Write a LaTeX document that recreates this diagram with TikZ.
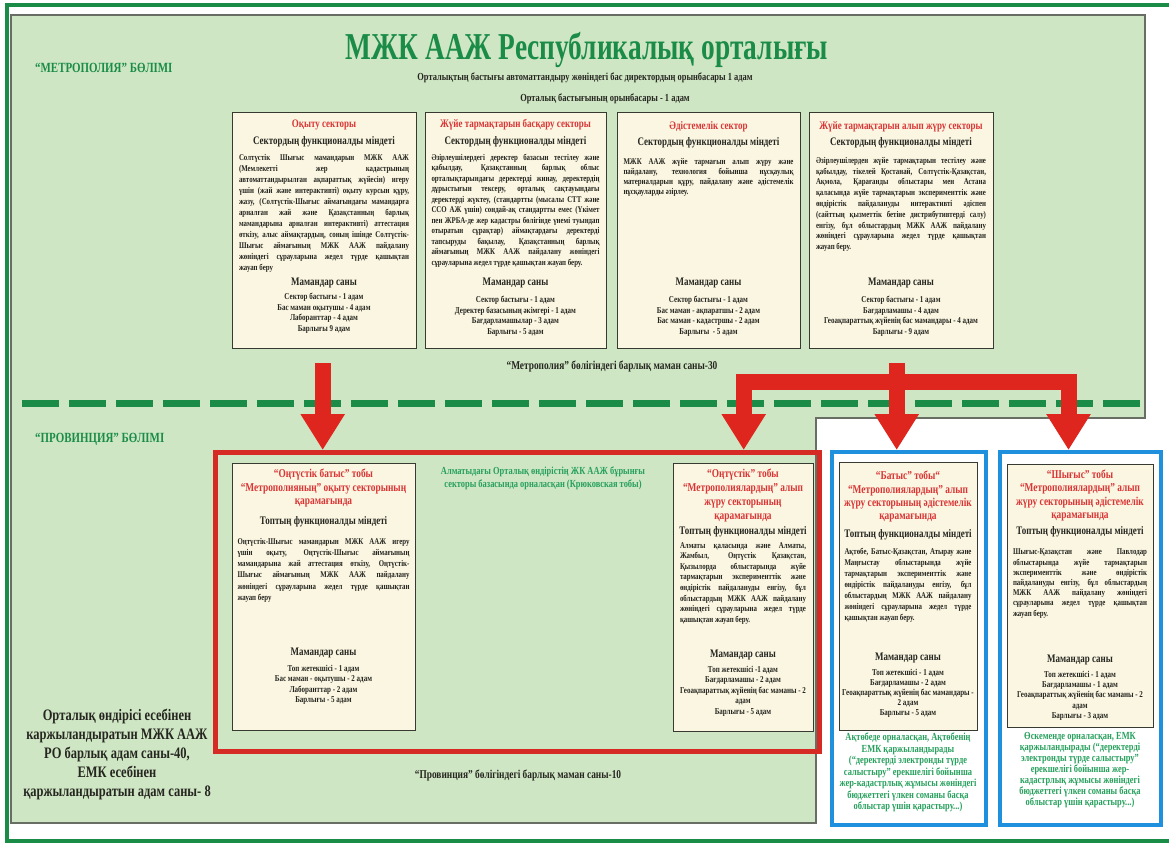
\documentclass[tikz,border=0pt]{standalone}
\usepackage{fontspec}
\setmainfont{Liberation Serif}[FakeStretch=0.78]
\newfontfamily\titlefont{Liberation Serif}[FakeStretch=0.72]
\usetikzlibrary{arrows.meta}
\definecolor{dkgreen}{RGB}{26,140,72}
\definecolor{bggreen}{RGB}{207,230,196}
\definecolor{regline}{RGB}{105,110,100}
\definecolor{cream}{RGB}{250,246,226}
\definecolor{boxline}{RGB}{55,58,48}
\definecolor{ink}{RGB}{38,38,32}
\definecolor{redtxt}{RGB}{218,52,52}
\definecolor{arrred}{RGB}{222,38,30}
\definecolor{boxred}{RGB}{214,42,36}
\definecolor{boxblue}{RGB}{30,144,222}
\definecolor{notegreen}{RGB}{38,160,92}
\begin{document}
\begin{tikzpicture}[x=1pt,y=-1pt,
 outerframe/.style={draw=dkgreen,line width=4pt,line join=miter},
 region/.style={fill=bggreen,draw=regline,line width=1.2pt},
 dashline/.style={draw=dkgreen,line width=7pt,dash pattern=on 37pt off 10pt},
 bigtitle/.style={font=\titlefont\bfseries\fontsize{38}{40}\selectfont,text=dkgreen,inner sep=0pt,anchor=base},
 seclabel/.style={font=\bfseries\fontsize{14}{16}\selectfont,text=dkgreen,inner sep=0pt,anchor=base west},
 subt/.style={font=\bfseries\fontsize{10.8}{12}\selectfont,text=ink,inner sep=0pt},
 total/.style={font=\bfseries\fontsize{12}{14}\selectfont,text=ink,inner sep=0pt},
 cbox/.style={draw=boxline,fill=cream,line width=1.4pt,inner sep=0pt,anchor=north west},
 redbox/.style={draw=boxred,line width=5pt,inner sep=0pt},
 bluebox/.style={draw=boxblue,line width=4pt,inner sep=0pt},
 rtitle/.style={font=\bfseries\fontsize{11.5}{13.5}\selectfont,text=redtxt,inner sep=0pt},
 ptitle/.style={font=\bfseries\fontsize{12}{#1}\selectfont,text=redtxt,inner sep=0pt,align=center,anchor=north},
 ptitle/.default=13.6,
 subh/.style={font=\bfseries\fontsize{11.5}{13.5}\selectfont,text=ink,inner sep=0pt},
 body/.style={font=\bfseries\fontsize{8.8}{#1}\selectfont,text=ink,inner sep=0pt,align=justify,anchor=north},
 body/.default=10.8,
 staff/.style={font=\bfseries\fontsize{9}{#1}\selectfont,text=ink,inner sep=0pt,align=center,anchor=north},
 staff/.default=10.5,
 gnote/.style={font=\bfseries\fontsize{10.8}{#1}\selectfont,text=notegreen,inner sep=0pt,align=center,anchor=north},
 gnote/.default=11.5,
 lefttxt/.style={font=\bfseries\fontsize{16}{19}\selectfont,text=ink,inner sep=0pt,align=center,anchor=north},
 bigarrow/.style={draw=arrred,line width=16pt,line join=miter,-{Triangle[width=42pt,length=36pt]}}
]
\useasboundingbox (0,0) rectangle (1169,845);
\fill[white] (0,0) rectangle (1169,845);
% outer frame and green region
\draw[outerframe] (1169,5) -- (7,5) -- (7,841) -- (1169,841);
\filldraw[region] (11,15) -- (1145,15) -- (1145,418) -- (816,418) -- (816,823) -- (11,823) -- cycle;
\draw[dashline] (22,403) -- (1145,403);

% headings
\node[bigtitle] (ttl) at (587,60) {МЖК ААЖ Республикалық орталығы};
\node[seclabel] (lm) at (35,73) {“МЕТРОПОЛИЯ” БӨЛІМІ};
\node[subt] (st1) at (585,78) {Орталықтың бастығы автоматтандыру жөніндегі бас директордың орынбасары 1 адам};
\node[subt] (st2) at (605,99) {Орталық бастығының орынбасары - 1 адам};

% metropolia box 1
\node[cbox,minimum width=184pt,minimum height=236pt] (m1) at (232,112) {};
\node[rtitle] (m1t) at (324,125) {Оқыту секторы};
\node[subh] (m1s) at (324,142) {Сектордың функционалды міндеті};
\node[body=11,text width=170pt] (m1b) at (324,154) {Солтүстік Шығыс мамандарын МЖК ААЖ\linebreak (Мемлекетті жер кадастрының\linebreak автоматтандырылған ақпараттық жүйесін) игеру\linebreak үшін (жай және интерактивті) оқыту курсын құру,\linebreak жазу, (Солтүстік-Шығыс аймағындағы мамандарға\linebreak арналған жай және Қазақстанның барлық\linebreak мамандарына арналған интерактивті) аттестация\linebreak өткізу, алыс аймақтардың, соның ішінде Солтүстік-\linebreak Шығыс аймағының МЖК ААЖ пайдалану\linebreak жөніндегі сұрауларына жедел түрде қашықтан\linebreak жауап беру};
\node[subh] (m1m) at (324,283) {Мамандар саны};
\node[staff] (m1f) at (324,293) {Сектор бастығы - 1 адам\\Бас маман оқытушы - 4 адам\\Лаборанттар - 4 адам\\Барлығы 9 адам};

% metropolia box 2
\node[cbox,minimum width=181pt,minimum height=236pt] (m2) at (425,112) {};
\node[rtitle] (m2t) at (515.5,125) {Жүйе тармақтарын басқару секторы};
\node[subh] (m2s) at (515.5,142) {Сектордың функционалды міндеті};
\node[body=10.5,text width=168pt] (m2b) at (515.5,154) {Әзірлеушілердегі деректер базасын тестілеу және\linebreak қабылдау, Қазақстанның барлық облыс\linebreak орталықтарындағы деректерді жинау, деректердің\linebreak дұрыстығын тексеру, орталық сақтауындағы\linebreak деректерді жүктеу, (стандартты (мысалы СТТ және\linebreak ССО АЖ үшін) сондай-ақ стандартты емес (Үкімет\linebreak пен ЖРБА-де жер кадастры бөлігінде үнемі туындап\linebreak отыратын сұрақтар) аймақтардағы деректерді\linebreak тапсыруды бақылау, Қазақстанның барлық\linebreak аймағының МЖК ААЖ пайдалану жөніндегі\linebreak сұрауларына жедел түрде қашықтан жауап беру.};
\node[subh] (m2m) at (515.5,283) {Мамандар саны};
\node[staff] (m2f) at (515.5,296) {Сектор бастығы - 1 адам\\Деректер базасының әкімгері - 1 адам\\Бағдарламашылар - 3 адам\\Барлығы - 5 адам};

% metropolia box 3
\node[cbox,minimum width=183pt,minimum height=236pt] (m3) at (617,112) {};
\node[rtitle] (m3t) at (708.5,127) {Әдістемелік сектор};
\node[subh] (m3s) at (708.5,143) {Сектордың функционалды міндеті};
\node[body=10.2,text width=170pt] (m3b) at (708.5,158) {МЖК ААЖ жүйе тармағын алып жүру және\linebreak пайдалану, технология бойынша нұсқаулық\linebreak материалдарын құру, пайдалану және әдістемелік\linebreak нұсқауларды әзірлеу.};
\node[subh] (m3m) at (708.5,283) {Мамандар саны};
\node[staff] (m3f) at (708.5,296) {Сектор бастығы - 1 адам\\Бас маман - ақпаратшы - 2 адам\\Бас маман - кадастршы - 2 адам\\Барлығы\ \ - 5 адам};

% metropolia box 4
\node[cbox,minimum width=184pt,minimum height=236pt] (m4) at (809,112) {};
\node[rtitle] (m4t) at (901,127) {Жүйе тармақтарын алып жүру секторы};
\node[subh] (m4s) at (901,143) {Сектордың функционалды міндеті};
\node[body=10.8,text width=170pt] (m4b) at (901,157) {Әзірлеушілерден жүйе тармақтарын тестілеу және\linebreak қабылдау, тікелей Қостанай, Солтүстік-Қазақстан,\linebreak Ақмола, Қарағанды облыстары мен Астана\linebreak қаласында жүйе тармақтарын эксперименттік және\linebreak өндірістік пайдалануды интерактивті әдіспен\linebreak (сайттың қызметтік бетіне дистрибутивтерді салу)\linebreak енгізу, бұл облыстардың МЖК ААЖ пайдалану\linebreak жөніндегі сұрауларына жедел түрде қашықтан\linebreak жауап беру.};
\node[subh] (m4m) at (901,283) {Мамандар саны};
\node[staff] (m4f) at (901,296) {Сектор бастығы - 1 адам\\Бағдарламашы - 4 адам\\Геоақпараттық жүйенің бас мамандары - 4 адам\\Барлығы - 9 адам};

\node[total] (mtot) at (612,366) {“Метрополия” бөлігіндегі барлық маман саны-30};

% provincia
\node[seclabel] (lp) at (35,442) {“ПРОВИНЦИЯ” БӨЛІМІ};
\node[redbox,minimum width=604pt,minimum height=299pt] (r) at (517.5,602) {};
\node[gnote=13] (alm) at (543,467) {Алматыдағы Орталық өндірістің ЖК ААЖ бұрынғы\\секторы базасында орналасқан (Крюковская тобы)};

\node[cbox,minimum width=183pt,minimum height=267pt] (p1) at (232,463) {};
\node[ptitle=13.5] (p1t) at (323.5,469) {“Оңтүстік батыс” тобы\\“Метрополияның” оқыту секторының\\қарамағында};
\node[subh] (p1s) at (323.5,522) {Топтың функционалды міндеті};
\node[body=11.2,text width=172pt] (p1b) at (323.5,538) {Оңтүстік-Шығыс мамандарын МЖК ААЖ игеру\linebreak үшін оқыту, Оңтүстік-Шығыс аймағының\linebreak мамандарына жай аттестация өткізу, Оңтүстік-\linebreak Шығыс аймағының МЖК ААЖ пайдалану\linebreak жөніндегі сұрауларына жедел түрде қашықтан\linebreak жауап беру};
\node[subh] (p1m) at (323.5,653) {Мамандар саны};
\node[staff=10.4] (p1f) at (323.5,665) {Топ жетекшісі - 1 адам\\Бас маман - оқытушы - 2 адам\\Лаборанттар - 2 адам\\Барлығы - 5 адам};

\node[cbox,minimum width=140pt,minimum height=268pt] (p2) at (673,463) {};
\node[ptitle=13.8] (p2t) at (743,469) {“Оңтүстік” тобы\\“Метрополиялардың” алып\\жүру секторының\\қарамағында};
\node[subh] (p2s) at (743,532) {Топтың функционалды міндеті};
\node[body=10.6,text width=126pt] (p2b) at (743,542) {Алматы қаласында және Алматы,\linebreak Жамбыл, Оңтүстік Қазақстан,\linebreak Қызылорда облыстарында жүйе\linebreak тармақтарын эксперименттік және\linebreak өндірістік пайдалануды енгізу, бұл\linebreak облыстардың МЖК ААЖ пайдалану\linebreak жөніндегі сұрауларына жедел түрде\linebreak қашықтан жауап беру.};
\node[subh] (p2m) at (743,655) {Мамандар саны};
\node[staff=10.4] (p2f) at (743,666) {Топ жетекшісі -1 адам\\Бағдарламашы - 2 адам\\Геоақпараттық жүйенің бас маманы - 2\\адам\\Барлығы - 5 адам};

\node[total] (ptot) at (518,775) {“Провинция” бөлігіндегі барлық маман саны-10};

% blue groups
\node[bluebox,minimum width=154pt,minimum height=373pt] (b1) at (909,638.5) {};
\node[cbox,minimum width=138pt,minimum height=268pt] (q1) at (839,462) {};
\node[ptitle=13.4] (q1t) at (908,471) {“Батыс” тобы“\\“Метрополиялардың” алып\\жүру секторының әдістемелік\\қарамағында};
\node[subh] (q1s) at (908,535) {Топтың функционалды міндеті};
\node[body=11,text width=127pt] (q1b) at (908,548) {Ақтөбе, Батыс-Қазақстан, Атырау және\linebreak Маңғыстау облыстарында жүйе\linebreak тармақтарын эксперименттік және\linebreak өндірістік пайдалануды енгізу, бұл\linebreak облыстардың МЖК ААЖ пайдалану\linebreak жөніндегі сұрауларына жедел түрде\linebreak қашықтан жауап беру.};
\node[subh] (q1m) at (908,658) {Мамандар саны};
\node[staff=10] (q1f) at (908,669) {Топ жетекшісі - 1 адам\\Бағдарламашы - 2 адам\\Геоақпараттық жүйенің бас мамандары -\\2 адам\\Барлығы - 5 адам};
\node[gnote=11.5] (q1n) at (908,733) {Ақтөбеде орналасқан, Ақтөбенің\\ЕМК қаржыландырады\\(“деректерді электронды түрде\\салыстыру” ерекшелігі бойынша\\жер-кадастрлық жұмысы жөніндегі\\бюджеттегі үлкен соманы басқа\\облыстар үшін қарастыру...)};

\node[bluebox,minimum width=161pt,minimum height=373pt] (b2) at (1080.5,638.5) {};
\node[cbox,minimum width=146pt,minimum height=263pt] (q2) at (1007,464) {};
\node[ptitle=13.4] (q2t) at (1080,469.5) {“Шығыс” тобы\\“Метрополиялардың” алып\\жүру секторының әдістемелік\\қарамағында};
\node[subh] (q2s) at (1080,532) {Топтың функционалды міндеті};
\node[body=10.2,text width=134pt] (q2b) at (1080,549) {Шығыс-Қазақстан және Павлодар\linebreak облыстарында жүйе тармақтарын\linebreak эксперименттік және өндірістік\linebreak пайдалануды енгізу, бұл облыстардың\linebreak МЖК ААЖ пайдалану жөніндегі\linebreak сұрауларына жедел түрде қашықтан\linebreak жауап беру.};
\node[subh] (q2m) at (1080,660) {Мамандар саны};
\node[staff=10.2] (q2f) at (1080,671) {Топ жетекшісі - 1 адам\\Бағдарламашы - 1 адам\\Геоақпараттық жүйенің бас маманы - 2\\адам\\Барлығы - 3 адам};
\node[gnote=11] (q2n) at (1080,732) {Өскеменде орналасқан, ЕМК\\қаржыландырады (“деректерді\\электронды түрде салыстыру”\\ерекшелігі бойынша жер-\\кадастрлық жұмысы жөніндегі\\бюджеттегі үлкен соманы басқа\\облыстар үшін қарастыру...)};

% left summary
\node[lefttxt] (lt) at (117,709) {Орталық өндірісі есебінен\\каржыландыратын МЖК ААЖ\\РО барлық адам саны-40,\\ЕМК есебінен\\қаржыландыратын адам саны- 8};

% arrows
\coordinate (a1s) at ([xshift=-2pt,yshift=-14pt]m1.south);
\coordinate (fs) at ([xshift=-5pt,yshift=-14pt]m4.south);
\coordinate (fk) at ([yshift=-19pt]fs);
\draw[bigarrow] (a1s) -- (a1s |- r.north);
\draw[bigarrow] (fk) -| (p2.north |- r.north);
\draw[bigarrow] (fk) -| ([xshift=-12pt]b2.north);
\draw[bigarrow] (fs) -- (fs |- b1.north);
\end{tikzpicture}
\end{document}
